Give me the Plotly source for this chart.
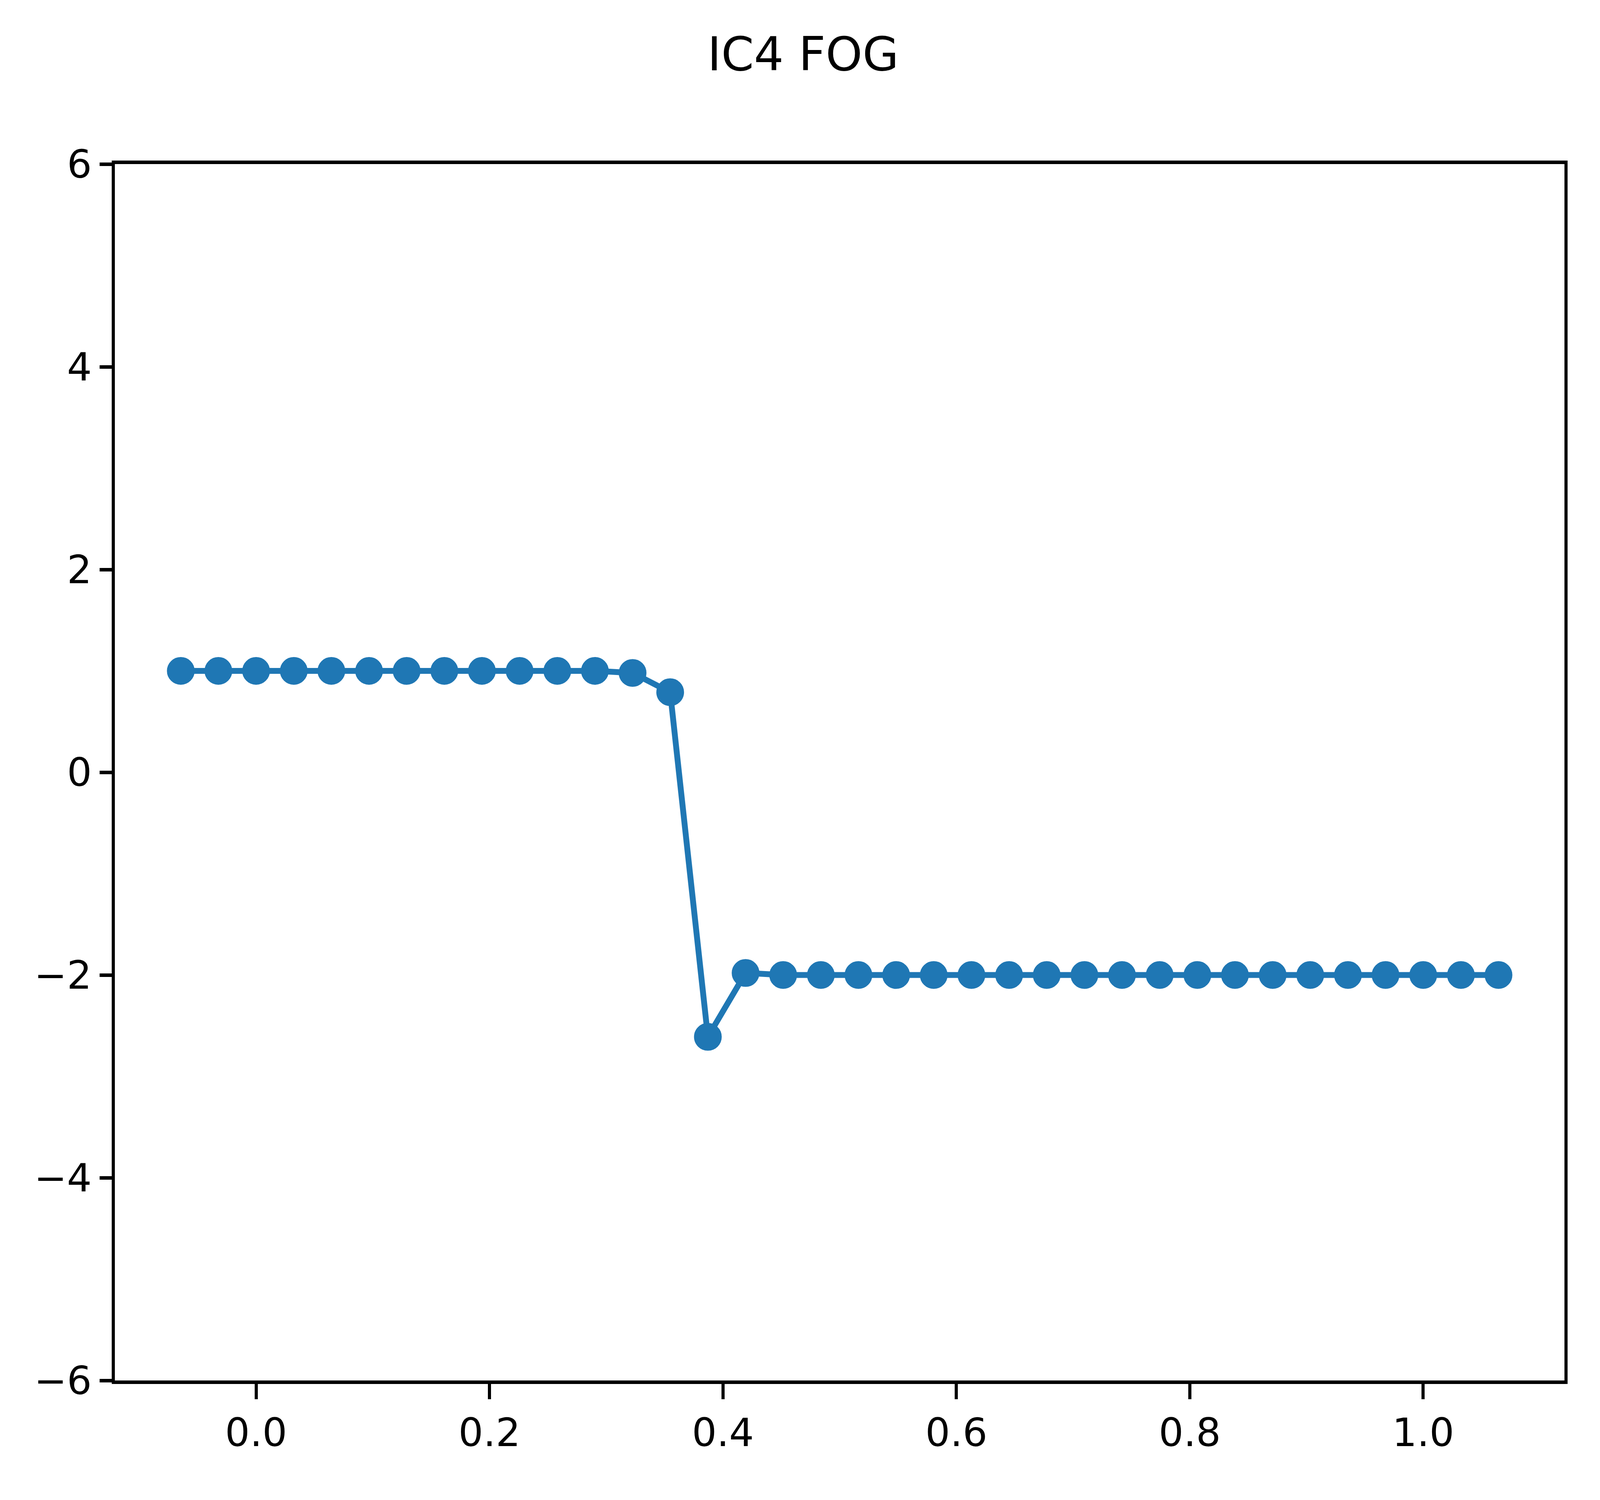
import plotly.graph_objects as go

# cell centres (incl. two ghost cells each side)
x_vals = [
    -0.0645, -0.0323, 0.0, 0.0323, 0.0645, 0.0968, 0.1290, 0.1613, 0.1935,
    0.2258, 0.2581, 0.2903, 0.3226, 0.3548, 0.3871, 0.4194, 0.4516, 0.4839,
    0.5161, 0.5484, 0.5806, 0.6129, 0.6452, 0.6774, 0.7097, 0.7419, 0.7742,
    0.8065, 0.8387, 0.8710, 0.9032, 0.9355, 0.9677, 1.0, 1.0323, 1.0645,
]
y_vals = [
    1.0, 1.0, 1.0, 1.0, 1.0, 1.0, 1.0, 1.0, 1.0, 1.0, 1.0, 1.0,
    0.98, 0.79, -2.61, -1.98,
    -2.0, -2.0, -2.0, -2.0, -2.0, -2.0, -2.0, -2.0, -2.0, -2.0,
    -2.0, -2.0, -2.0, -2.0, -2.0, -2.0, -2.0, -2.0, -2.0, -2.0,
]

y_ticks = [-6, -4, -2, 0, 2, 4, 6]
y_tick_text = ["\u22126", "\u22124", "\u22122", "0", "2", "4", "6"]
x_ticks = [0.0, 0.2, 0.4, 0.6, 0.8, 1.0]
x_tick_text = ["0.0", "0.2", "0.4", "0.6", "0.8", "1.0"]

title_text = "IC4 FOG"

BLUE = "#1f77b4"
FONT = "DejaVu Sans"

# the browser viewport comes out 4096 x 3840 css px, so fill it
W, H = 4096, 3840

fig = go.Figure(
    go.Scatter(
        x=x_vals,
        y=y_vals,
        mode="lines+markers",
        line={"color": BLUE, "width": 15},
        marker={"color": BLUE, "size": 61, "line": {"color": BLUE, "width": 10}},
        showlegend=False,
    )
)

axis_common = dict(
    showline=True,
    linecolor="black",
    mirror=True,
    ticks="outside",
    tickcolor="black",
    showgrid=False,
    zeroline=False,
    tickfont={"family": FONT, "size": 100, "color": "black"},
)

fig.update_xaxes(
    range=[-0.1210, 1.1210],
    tickvals=x_ticks,
    ticktext=x_tick_text,
    linewidth=9,
    ticklen=39,
    tickwidth=8,
    **axis_common,
)
fig.update_yaxes(
    range=[-6, 6],
    tickvals=y_ticks,
    ticktext=y_tick_text,
    linewidth=8,
    ticklen=31,
    tickwidth=9,
    **axis_common,
)

fig.update_layout(
    width=W,
    height=H,
    margin={"l": 286, "r": 99, "t": 412, "b": 314, "autoexpand": False},
    paper_bgcolor="white",
    plot_bgcolor="white",
    title={
        "text": title_text,
        "x": 0.5,
        "xanchor": "center",
        "xref": "container",
        "yref": "container",
        "y": 1 - 130 / H,
        "yanchor": "middle",
        "font": {"family": FONT, "size": 120, "color": "black"},
    },
)

fig.write_html("out.html")
